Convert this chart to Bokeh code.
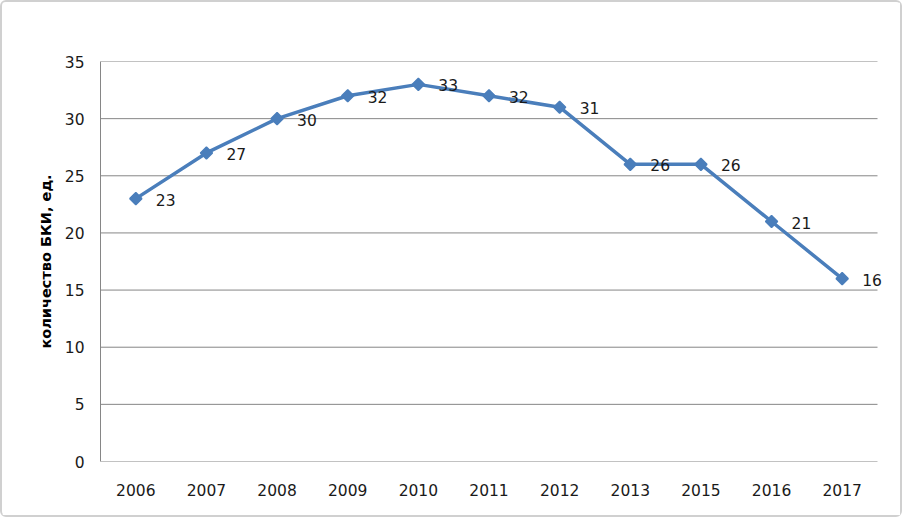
from bokeh.plotting import figure
from bokeh.models import Range1d, ColumnDataSource, LabelSet, FixedTicker
from bokeh.core.properties import value
from bokeh.embed import file_html
from bokeh.resources import INLINE

years = ["2006", "2007", "2008", "2009", "2010", "2011", "2012", "2013", "2015", "2016", "2017"]
counts = [23, 27, 30, 32, 33, 32, 31, 26, 26, 21, 16]
y_ticks = [0, 5, 10, 15, 20, 25, 30, 35]
y_label = "количество БКИ, ед."

idx = list(range(len(years)))
src = ColumnDataSource(dict(x=idx, y=counts, lbl=[str(v) for v in counts]))

n = len(years)
cat_px = (877 - 100) / n          # pixel width of one category slot
extra = 16                         # frame extends right beyond the plot area
x_end = n - 0.5 + extra / cat_px

p = figure(width=902, height=517, output_backend="svg", toolbar_location=None,
           x_range=Range1d(-0.5, x_end), y_range=Range1d(0, 35),
           min_border_left=98, min_border_right=25 - extra + 2, min_border_top=59, min_border_bottom=58)
p.styles = {"border": "2px solid #d0d0d0", "border-radius": "6px"}
p.outline_line_color = None
p.background_fill_color = "white"

# horizontal grid lines limited to the category area
p.segment(x0=[-0.5] * len(y_ticks), x1=[n - 0.5] * len(y_ticks), y0=y_ticks, y1=y_ticks,
          line_color="#868686", line_width=1)

p.line("x", "y", source=src, line_color="#4a7ebb", line_width=3.5)
p.scatter("x", "y", source=src, marker="square", angle=0.785398, size=8.5,
          fill_color="#4a7ebb", line_color="#4a7ebb", line_width=1.5)

labels = LabelSet(x="x", y="y", text="lbl", source=src, x_offset=20, y_offset=-1,
                  text_font=value("DejaVu Sans"), text_font_size="15.5px", text_color="#1a1a1a",
                  text_baseline="middle", text_align="left")
p.add_layout(labels)

p.xgrid.grid_line_color = None
p.ygrid.grid_line_color = None
p.yaxis.ticker = FixedTicker(ticks=y_ticks)
p.xaxis.ticker = FixedTicker(ticks=idx)
p.xaxis.major_label_overrides = {i: y for i, y in zip(idx, years)}

for ax in (p.xaxis[0], p.yaxis[0]):
    ax.axis_line_color = "#868686"
    ax.major_tick_line_color = None
    ax.minor_tick_line_color = None
    ax.major_tick_out = 0
    ax.major_tick_in = 0
    ax.major_label_text_font = "DejaVu Sans"
    ax.major_label_text_font_size = "15.5px"
    ax.major_label_text_color = "#1a1a1a"
p.xaxis.axis_line_color = None

p.yaxis.major_label_standoff = 16
p.xaxis.major_label_standoff = 22
p.yaxis.axis_label = y_label
p.yaxis.axis_label_text_font = "DejaVu Sans"
p.yaxis.axis_label_text_font_style = "bold"
p.yaxis.axis_label_text_font_size = "14.5px"
p.yaxis.axis_label_text_color = "#000000"
p.yaxis.axis_label_standoff = 8

open("out.html", "w").write(file_html(p, INLINE))
